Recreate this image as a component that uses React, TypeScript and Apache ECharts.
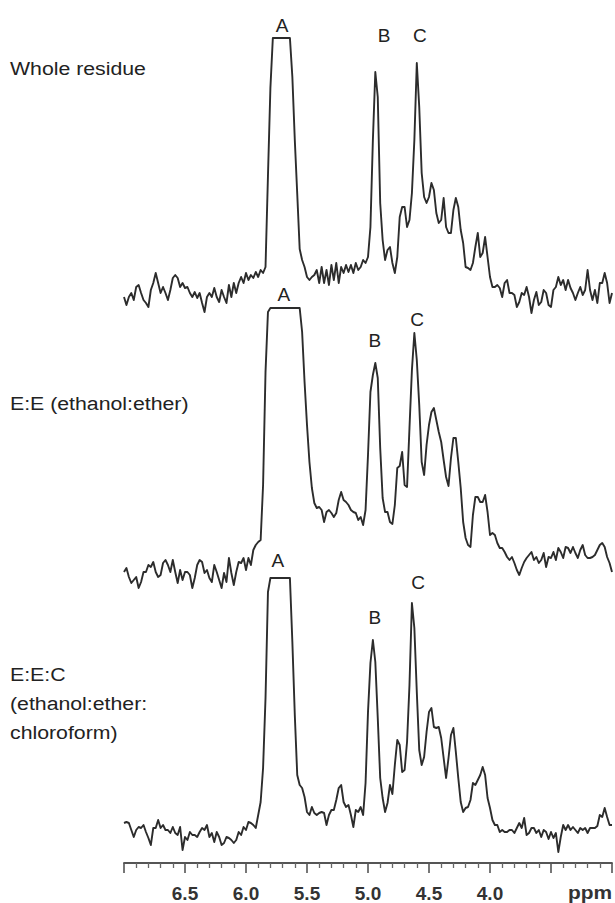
import React, { useEffect, useRef } from "react";
import * as echarts from "echarts";

// Chemical shift sampling: first point at 7.00 ppm, one point every 0.02 ppm down to 3.00 ppm
const PPM_START = 7.0;
const PPM_STEP = 0.02;

// Intensities (arbitrary units)
const wholeResidue = [
  23, 15, 23, 27, 20, 33, 35, 27, 20, 17,
  13, 30, 37, 47, 37, 27, 33, 27, 20, 30,
  42, 45, 42, 33, 37, 32, 33, 27, 23, 28,
  22, 27, 17, 8, 23, 27, 23, 32, 23, 18,
  30, 23, 17, 35, 23, 37, 27, 37, 43, 37,
  47, 40, 45, 42, 48, 43, 50, 47, 53, 144,
  232, 282, 282, 282, 282, 282, 282, 282, 282, 243,
  180, 126, 71, 60, 53, 43, 40, 43, 45, 50,
  37, 53, 37, 50, 35, 55, 40, 57, 37, 53,
  47, 55, 48, 55, 47, 57, 50, 53, 60, 57,
  63, 93, 180, 248, 223, 117, 80, 60, 70, 73,
  57, 47, 63, 103, 113, 113, 93, 100, 127, 180,
  257, 213, 147, 123, 117, 123, 137, 130, 107, 97,
  100, 122, 93, 87, 87, 110, 122, 113, 90, 77,
  53, 52, 50, 57, 73, 87, 63, 67, 83, 63,
  43, 33, 33, 35, 32, 23, 37, 40, 27, 27,
  25, 13, 18, 27, 25, 33, 23, 7, 20, 28,
  15, 18, 30, 27, 15, 13, 30, 33, 43, 35,
  40, 30, 40, 32, 27, 20, 27, 33, 25, 30,
  50, 30, 20, 30, 17, 37, 37, 47, 37, 17,
  27,
];

const ethanolEther = [
  28, 32, 23, 17, 20, 23, 12, 18, 28, 28,
  35, 33, 38, 28, 23, 25, 37, 40, 35, 28,
  40, 28, 17, 30, 20, 28, 28, 25, 12, 22,
  35, 40, 38, 27, 30, 22, 18, 35, 28, 20,
  12, 27, 18, 42, 27, 15, 28, 38, 37, 42,
  30, 42, 35, 50, 55, 58, 60, 115, 228, 288,
  292, 292, 292, 292, 292, 292, 292, 292, 292, 292,
  292, 292, 292, 268, 218, 175, 138, 112, 97, 92,
  93, 90, 78, 88, 90, 87, 83, 87, 100, 108,
  100, 98, 95, 90, 88, 87, 80, 83, 75, 90,
  145, 208, 225, 237, 222, 152, 102, 88, 88, 78,
  76, 95, 132, 134, 148, 115, 113, 172, 230, 267,
  240, 195, 138, 125, 155, 175, 188, 192, 180, 168,
  158, 140, 123, 114, 142, 162, 162, 138, 112, 78,
  62, 55, 53, 85, 103, 103, 98, 98, 105, 88,
  65, 67, 65, 57, 52, 52, 48, 43, 40, 43,
  37, 30, 25, 32, 38, 42, 45, 48, 40, 43,
  37, 40, 47, 33, 43, 42, 48, 40, 52, 48,
  42, 53, 52, 47, 53, 47, 42, 50, 55, 45,
  42, 42, 43, 45, 50, 55, 57, 53, 43, 37,
  28,
];

const ethanolEtherChloroform = [
  40, 41, 40, 33, 26, 33, 36, 35, 38, 31,
  25, 18, 35, 35, 43, 35, 38, 33, 33, 30,
  36, 30, 28, 36, 13, 26, 23, 31, 28, 28,
  26, 31, 35, 33, 38, 26, 30, 21, 31, 26,
  18, 20, 26, 25, 23, 20, 23, 31, 28, 36,
  33, 41, 40, 38, 35, 48, 61, 95, 165, 271,
  285, 285, 285, 285, 285, 285, 285, 285, 285, 221,
  148, 88, 78, 75, 66, 51, 48, 56, 50, 48,
  50, 51, 50, 38, 48, 53, 53, 63, 75, 78,
  61, 56, 58, 48, 36, 53, 51, 56, 48, 80,
  151, 200, 223, 201, 145, 85, 65, 51, 60, 78,
  69, 98, 123, 118, 91, 93, 121, 178, 260, 235,
  171, 113, 98, 106, 131, 151, 155, 136, 135, 136,
  125, 105, 85, 105, 128, 135, 111, 85, 61, 51,
  55, 56, 63, 80, 78, 83, 88, 96, 88, 65,
  55, 43, 38, 38, 31, 33, 31, 31, 33, 33,
  30, 35, 40, 35, 45, 28, 30, 35, 35, 30,
  33, 26, 33, 31, 24, 31, 25, 30, 11, 26,
  38, 33, 38, 33, 36, 33, 30, 35, 33, 35,
  30, 35, 35, 35, 37, 48, 46, 55, 46, 38,
  38,
];

const traces = [wholeResidue, ethanolEther, ethanolEtherChloroform];
const traceTitles = [["Whole residue"], ["E:E (ethanol:ether)"], ["E:E:C", "(ethanol:ether:", "chloroform)"]];
const peakNames = ["A", "B", "C"];
const peakPpm = [
  [5.705, 4.869, 4.574],
  [5.689, 4.943, 4.598],
  [5.738, 4.943, 4.59],
];
const peakLabelLevel = [
  [295, 285, 285],
  [306, 260, 281],
  [303, 246, 281],
];
const tickLabels = ["6.5", "6.0", "5.5", "5.0", "4.5", "4.0"];
const axisUnit = "ppm";

const FONT = '"Liberation Sans", Arial, Helvetica, sans-serif';

export default function App() {
  const ref = useRef<HTMLDivElement>(null);
  useEffect(() => {
    document.body.style.margin = "0";
    const chart = echarts.init(ref.current!, null, { renderer: "svg" });
    const layout = [
      { top: 10, height: 310 },
      { top: 280, height: 320 },
      { top: 543, height: 320 },
    ];
    const titleY = [[68], [403], [674, 703, 732]];
    const grid = layout.map((g) => ({ left: 124, right: 3, top: g.top, height: g.height }));
    const xAxis = layout.map((_, k) => ({
      gridIndex: k,
      type: "value",
      min: 3,
      max: 7,
      inverse: true,
      interval: 0.5,
      show: k === 2,
      axisLine: { show: true, onZero: false, lineStyle: { color: "#555", width: 1.8 } },
      axisTick: { show: true, length: 10, lineStyle: { color: "#555", width: 1.6 } },
      minorTick: { show: true, splitNumber: 5, length: 5, lineStyle: { color: "#666", width: 1.3 } },
      splitLine: { show: false },
      minorSplitLine: { show: false },
      axisLabel: {
        show: true,
        margin: 21,
        fontSize: 19,
        fontWeight: "bold",
        fontFamily: FONT,
        color: "#333",
        formatter: (v: number) => (tickLabels.includes(v.toFixed(1)) ? v.toFixed(1) : ""),
      },
    }));
    const yAxis = layout.map((g, k) => ({
      gridIndex: k,
      type: "value",
      min: 0,
      max: g.height,
      show: false,
    }));
    const series = traces.map((vals, k) => ({
      type: "line",
      xAxisIndex: k,
      yAxisIndex: k,
      showSymbol: false,
      symbol: "none",
      silent: true,
      data: vals.map((v, i) => [+(PPM_START - i * PPM_STEP).toFixed(2), v]),
      lineStyle: { color: "#2c2c2c", width: 1.9, join: "round" },
      markPoint: {
        silent: true,
        symbol: "circle",
        symbolSize: 0,
        data: peakNames.map((n, j) => ({ name: n, coord: [peakPpm[k][j], peakLabelLevel[k][j]] })),
        label: {
          show: true,
          position: "inside",
          formatter: "{b}",
          fontSize: 19,
          fontFamily: FONT,
          color: "#222",
        },
      },
    }));
    const graphic: any[] = [];
    traceTitles.forEach((lines, k) =>
      lines.forEach((t, j) =>
        graphic.push({
          type: "text",
          x: 10,
          y: titleY[k][j],
          scaleX: 1.12,
          silent: true,
          style: { text: t, fontSize: 19, fontFamily: FONT, fill: "#222", verticalAlign: "middle", align: "left" },
        })
      )
    );
    graphic.push({
      type: "text",
      x: 612,
      y: 892,
      scaleX: 1.1,
      silent: true,
      style: { text: axisUnit, fontSize: 19, fontWeight: "bold", fontFamily: FONT, fill: "#333", verticalAlign: "middle", align: "right" },
    });
    chart.setOption({
      animation: false,
      backgroundColor: "#ffffff",
      grid,
      xAxis,
      yAxis,
      series,
      graphic,
    });
    return () => chart.dispose();
  }, []);
  return <div ref={ref} style={{ position: "absolute", left: 0, top: 0, width: 615, height: 903 }} />;
}
